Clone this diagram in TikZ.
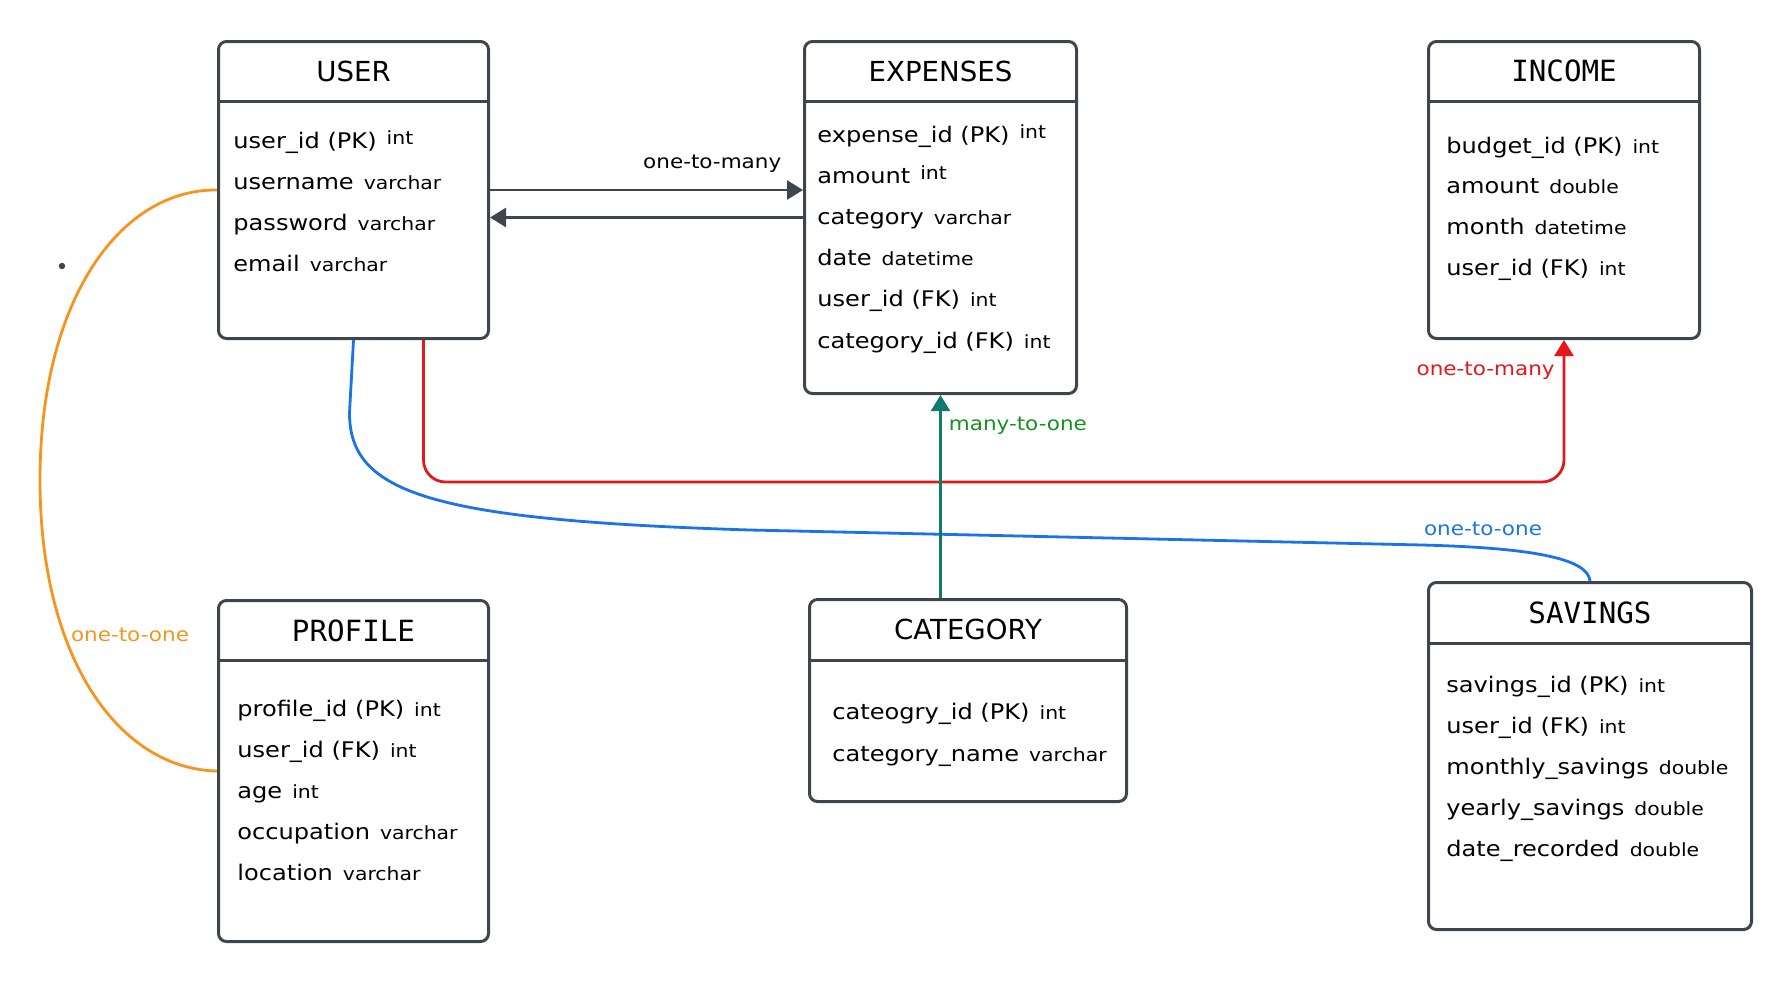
\documentclass[tikz,border=0pt]{standalone}
\usepackage{fontspec}
\setmainfont{DejaVu Sans}[FakeStretch=1.12]
\newfontfamily\headsans{DejaVu Sans}
\newfontfamily\headmono{DejaVu Sans Mono}
\usetikzlibrary{arrows.meta,calc,positioning}

\definecolor{slate}{HTML}{3F454D}
\definecolor{relred}{HTML}{E5171C}
\definecolor{relblue}{HTML}{1A73E8}
\definecolor{relorange}{HTML}{F7941D}
\definecolor{relteal}{HTML}{0F7B6C}
\definecolor{relgreen}{HTML}{17901F}

\newcommand{\coltype}[1]{\hspace{5pt}{\fontsize{9.1pt}{11pt}\selectfont #1}}
\newcommand{\coltypeup}[1]{\hspace{5pt}\raisebox{2pt}{\fontsize{9.1pt}{11pt}\selectfont #1}}

\begin{document}
\begin{tikzpicture}[x=0.5pt,y=-0.5pt,>={Triangle[length=8pt,width=9.5pt]},
    entity/.style={draw=slate,line width=1.5pt,rounded corners=4pt,anchor=north west,inner sep=0pt},
    head sans/.style={font=\headsans\fontsize{13.8pt}{16pt}\selectfont},
    head mono/.style={font=\headmono\fontsize{14.6pt}{17pt}\selectfont},
    divider/.style={draw=slate,line width=1.5pt},
    field/.style={anchor=base west,inner sep=0pt,font=\fontsize{10.75pt}{13pt}\selectfont},
    rel/.style={line width=1.4pt},
    lbl/.style={inner sep=0pt,font=\fontsize{9.6pt}{11pt}\selectfont}]

    \useasboundingbox (0,0) rectangle (1790,981);

    % Tables (sizes in pt, one pixel is 0.5pt)
    \node[entity,minimum width=135pt,minimum height=148.5pt] (user) at (217,40) {};
    \node[entity,minimum width=136pt,minimum height=176pt] (expenses) at (803,40) {};
    \node[entity,minimum width=135.5pt,minimum height=148.5pt] (income) at (1427,40) {};
    \node[entity,minimum width=135pt,minimum height=170.5pt] (profile) at (217,599) {};
    \node[entity,minimum width=158.5pt,minimum height=101pt] (category) at (808,598) {};
    \node[entity,minimum width=161.5pt,minimum height=173.5pt] (savings) at (1427,581) {};

    % Headers
    \node[head sans] (usert) at ($(user.north)+(0,31)$) {USER};
    \node[head sans] (expensest) at ($(expenses.north)+(0,31)$) {EXPENSES};
    \node[head mono] (incomet) at ($(income.north)+(0,31)$) {INCOME};
    \node[head mono] (profilet) at ($(profile.north)+(0,32)$) {PROFILE};
    \node[head sans] (categoryt) at ($(category.north)+(0,31)$) {CATEGORY};
    \node[head mono] (savingst) at ($(savings.north)+(0,32)$) {SAVINGS};

    \draw[divider] ($(user.north west)+(0,61)$) -- ($(user.north east)+(0,61)$);
    \draw[divider] ($(expenses.north west)+(0,61)$) -- ($(expenses.north east)+(0,61)$);
    \draw[divider] ($(income.north west)+(0,61)$) -- ($(income.north east)+(0,61)$);
    \draw[divider] ($(profile.north west)+(0,61)$) -- ($(profile.north east)+(0,61)$);
    \draw[divider] ($(category.north west)+(0,62)$) -- ($(category.north east)+(0,62)$);
    \draw[divider] ($(savings.north west)+(0,62)$) -- ($(savings.north east)+(0,62)$);

    % User fields
    \node[field] (u1) at ($(user.north west)+(16,108)$) {user\_id (PK)\coltypeup{int}};
    \node[field] (u2) at ($(u1.base west)+(0,41)$) {username\coltype{varchar}};
    \node[field] (u3) at ($(u2.base west)+(0,41)$) {password\coltype{varchar}};
    \node[field] (u4) at ($(u3.base west)+(0,41)$) {email\coltype{varchar}};

    % Expenses fields
    \node[field] (e1) at ($(expenses.north west)+(14,102)$) {expense\_id (PK)\coltypeup{int}};
    \node[field] (e2) at ($(e1.base west)+(0,41.2)$) {amount\coltypeup{int}};
    \node[field] (e3) at ($(e2.base west)+(0,41.2)$) {category\coltype{varchar}};
    \node[field] (e4) at ($(e3.base west)+(0,41.2)$) {date\coltype{datetime}};
    \node[field] (e5) at ($(e4.base west)+(0,41.2)$) {user\_id (FK)\coltype{int}};
    \node[field] (e6) at ($(e5.base west)+(0,41.2)$) {category\_id (FK)\coltype{int}};

    % Income fields
    \node[field] (i1) at ($(income.north west)+(19,113)$) {budget\_id (PK)\coltype{int}};
    \node[field] (i2) at ($(i1.base west)+(0,40.7)$) {amount\coltype{double}};
    \node[field] (i3) at ($(i2.base west)+(0,40.7)$) {month\coltype{datetime}};
    \node[field] (i4) at ($(i3.base west)+(0,40.7)$) {user\_id (FK)\coltype{int}};

    % Profile fields
    \node[field] (p1) at ($(profile.north west)+(20,117)$) {profile\_id (PK)\coltype{int}};
    \node[field] (p2) at ($(p1.base west)+(0,41.2)$) {user\_id (FK)\coltype{int}};
    \node[field] (p3) at ($(p2.base west)+(0,41.2)$) {age\coltype{int}};
    \node[field] (p4) at ($(p3.base west)+(0,41.2)$) {occupation\coltype{varchar}};
    \node[field] (p5) at ($(p4.base west)+(0,41.2)$) {location\coltype{varchar}};

    % Category fields
    \node[field] (c1) at ($(category.north west)+(24,121)$) {cateogry\_id (PK)\coltype{int}};
    \node[field] (c2) at ($(c1.base west)+(0,42)$) {category\_name\coltype{varchar}};

    % Savings fields
    \node[field] (s1) at ($(savings.north west)+(19,111)$) {savings\_id (PK)\coltype{int}};
    \node[field] (s2) at ($(s1.base west)+(0,41.2)$) {user\_id (FK)\coltype{int}};
    \node[field] (s3) at ($(s2.base west)+(0,41.2)$) {monthly\_savings\coltype{double}};
    \node[field] (s4) at ($(s3.base west)+(0,41.2)$) {yearly\_savings\coltype{double}};
    \node[field] (s5) at ($(s4.base west)+(0,41.2)$) {date\_recorded\coltype{double}};

    % User and Expenses
    \draw[rel,slate,->] (user.east) -- (user.east -| expenses.west)
        node[lbl,pos=0.71,above=8pt,text=black] (uel) {one-to-many};
    \draw[rel,slate,->] (expenses.west) -- (expenses.west -| user.east);

    % User and Profile
    \draw[rel,relorange] (user.west) .. controls (120,189) and (40,300) .. (40,480)
        .. controls (40,660) and (120,769) .. (profile.west);
    \node[lbl,text=relorange] (upl) at (130,635) {one-to-one};
    \fill[slate] (62,266) circle (1.6pt);

    % User and Income
    \draw[rel,relred,rounded corners=11pt,->] ($(user.south)+(70,0)$) -- ++(0,142) -| (income.south);
    \node[lbl,text=relred,anchor=east] (uil) at ($(income.south)+(-9,31)$) {one-to-many};

    % User and Savings
    \draw[rel,relblue] (user.south) -- ++(-4,73) .. controls +(0,80) and (430,520) .. (750,530)
        -- (1422,545) .. controls (1540,548) and (1588,560) .. (savings.north);
    \node[lbl,text=relblue] (usl) at (1483,529) {one-to-one};

    % Category and Expenses
    \draw[line width=1.1pt,relteal,->] (expenses.south |- category.north) -- (expenses.south);
    \node[lbl,text=relgreen,anchor=west] (cel) at ($(expenses.south)+(8,31)$) {many-to-one};
\end{tikzpicture}
\end{document}
